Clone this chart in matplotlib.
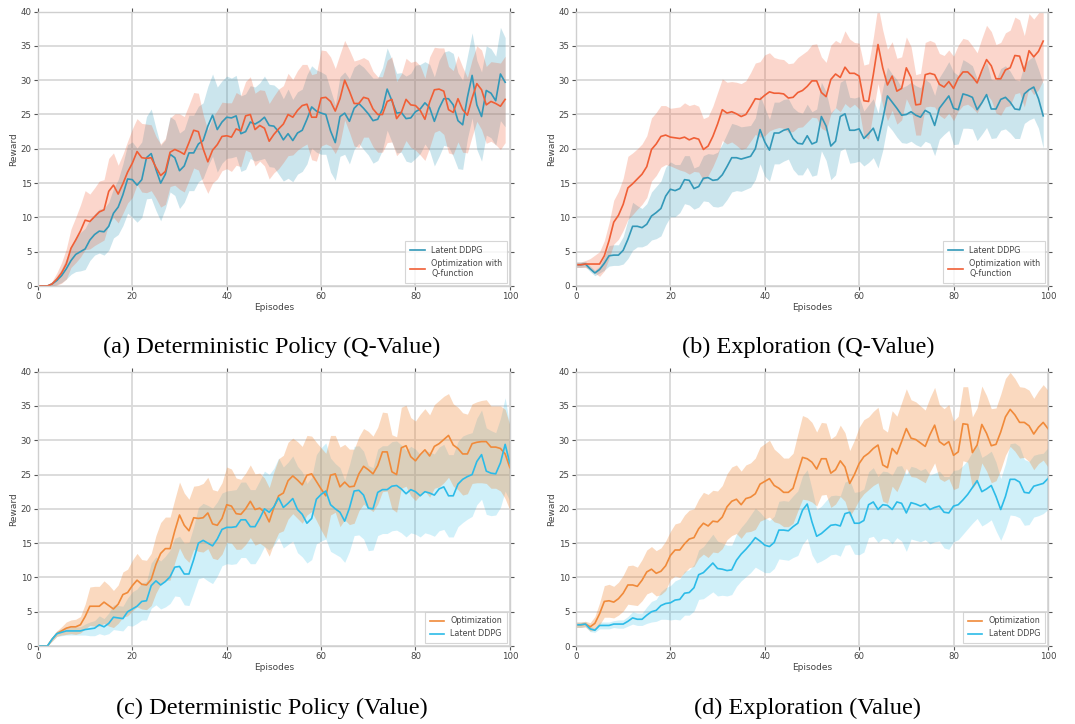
import matplotlib
matplotlib.use("Agg")
import matplotlib.pyplot as plt
import numpy as np

# ---------------- data ----------------
episodes_top = list(range(100))
episodes_bot = list(range(101))

# (a) Deterministic Policy (Q-Value)
a_latent = [0, 0, 0, 0.3, 0.8, 1.5, 2.5, 3.7, 4.6, 5.0, 5.4, 6.7, 7.5, 8.0, 7.9, 8.7, 10.6, 11.5, 13.3, 15.6,
            15.5, 14.7, 15.5, 18.7, 19.3, 17.0, 15.0, 16.3, 19.2, 18.7, 16.8, 17.5, 19.4, 19.4, 20.7, 21.2, 23.3, 24.9, 22.8, 23.9,
            24.6, 24.5, 24.8, 22.2, 22.5, 23.9, 23.6, 24.0, 24.6, 23.4, 23.3, 22.5, 21.3, 22.2, 21.2, 22.3, 22.7, 24.3, 26.1, 25.5,
            25.2, 25.0, 22.6, 20.9, 24.7, 25.2, 24.0, 25.9, 26.6, 25.9, 25.1, 24.1, 24.3, 25.8, 28.7, 27.0, 25.2, 25.3, 24.4, 24.5,
            25.4, 25.8, 26.7, 26.0, 24.0, 25.9, 27.3, 27.3, 26.4, 24.1, 23.5, 27.5, 30.7, 26.4, 24.7, 28.5, 28.1, 27.0, 30.9, 29.7]
a_latent_std = [0, 0, 0, 0.3, 0.6, 1, 1.5, 2, 2.5, 2.8, 3, 3, 3, 3.2, 3.4, 3.5, 3.6, 4, 4.5, 5,
                5.5, 5.4, 5.5, 6, 6.5, 6, 5.5, 5, 5.5, 5.5, 5.5, 5.3, 5.5, 5.5, 5.5, 5.5, 5.8, 6, 6.2, 6,
                6, 5.8, 5.9, 5.5, 5.5, 5.3, 5.4, 5.6, 6, 6, 6, 6.2, 6, 6.5, 6, 6, 6, 6.5, 6, 6,
                6, 5.8, 6, 5.5, 5.8, 6, 6.2, 6, 5.8, 6, 6, 6.2, 6, 6, 6, 6, 5.8, 5.8, 6.2, 6.5,
                6.8, 6.5, 6, 6.3, 6.5, 7, 6.8, 7, 7.5, 7, 6.5, 6, 6.2, 6.5, 6.5, 6.5, 6.5, 6.5, 6.8, 6.5]
a_qfunc = [0, 0, 0, 0.3, 1.0, 1.9, 3.2, 5.5, 6.7, 8.0, 9.6, 9.4, 10.1, 10.8, 11.1, 13.8, 14.7, 13.4, 14.9, 16.6,
           17.9, 19.6, 18.7, 18.6, 18.7, 17.3, 16.1, 16.7, 19.5, 19.9, 19.6, 19.2, 20.9, 22.7, 22.5, 20.0, 18.1, 19.8, 20.6, 21.8,
           21.9, 21.7, 22.9, 22.6, 24.8, 25.0, 22.8, 23.4, 23.0, 21.1, 22.1, 22.9, 23.6, 25.0, 24.6, 25.6, 26.3, 26.5, 24.6, 24.6,
           27.4, 27.5, 26.9, 25.5, 27.3, 30.0, 28.4, 26.6, 26.6, 27.5, 27.3, 25.8, 25.0, 25.0, 26.9, 27.2, 24.4, 25.3, 27.2, 26.4,
           26.3, 25.6, 24.3, 26.8, 28.6, 28.7, 28.4, 25.7, 25.3, 27.3, 25.7, 24.9, 27.4, 29.5, 28.6, 26.4, 26.9, 26.6, 26.2, 27.2]
a_qfunc_std = [0, 0, 0, 0.4, 0.9, 1.5, 2.2, 2.8, 3.3, 3.8, 4.3, 4, 4.2, 4.5, 4.4, 4.8, 4.7, 4.2, 4.3, 4.5,
               5, 4.8, 5, 5, 4.8, 4.5, 4.6, 4.8, 5, 5.2, 5.5, 5.5, 5.5, 5.5, 5.6, 5, 4.6, 4.8, 5, 5,
               4.8, 5, 5.3, 5.2, 5, 5.5, 5.3, 5.2, 5.5, 5.5, 5.6, 5.8, 5.6, 6, 5.5, 5.8, 6, 5.8, 6.2, 6.4,
               7, 6.8, 6.5, 6.2, 6.5, 5.8, 6, 6.2, 6.4, 5.8, 5.6, 5.5, 5.5, 5.5, 6, 6.2, 5.4, 5.6, 6, 6.2,
               6.5, 6.5, 6, 6.6, 6.2, 6, 6.3, 6.3, 6.1, 6.3, 6.2, 5.5, 5.6, 5.5, 5.8, 5.6, 5.8, 6, 6.3, 6.3]

# (b) Exploration (Q-Value)
b_latent = [3.1, 3.1, 3.2, 2.5, 1.9, 2.4, 3.3, 4.4, 4.5, 4.5, 5.2, 6.8, 8.7, 8.7, 8.5, 9.0, 10.2, 10.7, 11.3, 13.1,
            14.1, 13.9, 14.2, 15.5, 15.4, 14.2, 14.5, 15.7, 15.8, 15.4, 15.5, 16.2, 17.4, 18.7, 18.7, 18.5, 18.7, 18.9, 20.0, 22.8,
            21.0, 19.8, 22.3, 22.3, 22.7, 22.9, 21.5, 20.8, 20.7, 21.9, 20.7, 21.0, 24.7, 23.3, 20.4, 21.1, 24.7, 25.1, 22.7, 22.7,
            22.9, 21.5, 22.2, 23.0, 21.2, 24.3, 27.7, 26.8, 25.9, 24.9, 25.0, 25.4, 24.9, 24.6, 25.6, 25.2, 23.4, 25.9, 26.8, 27.7,
            25.9, 25.7, 28.0, 27.8, 27.5, 25.7, 26.7, 27.9, 25.8, 25.8, 27.2, 27.5, 26.8, 25.8, 25.7, 28.0, 28.6, 29.0, 27.3, 24.8]
b_latent_std = [0.4, 0.4, 0.4, 0.4, 0.4, 0.5, 1, 1.5, 1.5, 1.5, 2, 2.8, 3.5, 3, 2.8, 3, 3.5, 3.8, 4, 4.2,
                4, 3.8, 3.5, 3.5, 3.6, 3, 3, 3.3, 3.5, 3.8, 4, 4.5, 4.8, 5, 4.8, 4.7, 4.6, 4.5, 4.5, 5,
                5, 4.5, 4.5, 4.5, 4.5, 4.4, 4.5, 4.6, 4.5, 4.6, 4.7, 4.8, 5, 5, 4.9, 4.9, 5, 5, 4.8, 4.7,
                4.7, 4, 4.2, 4.3, 4, 4.5, 4.2, 4.1, 4.2, 4, 4.2, 4.3, 4.3, 4.3, 4.5, 4.4, 4.4, 4.5, 4.7, 5,
                5.3, 5, 5, 4.8, 4.6, 4.5, 4.6, 4.8, 4.3, 4.2, 4.5, 4.6, 4.5, 4.3, 4.2, 4.3, 4.4, 4.5, 4.3, 4.7]
b_qfunc = [3.1, 3.1, 3.2, 3.2, 3.2, 3.2, 4.4, 6.6, 9.3, 10.3, 11.9, 14.3, 14.9, 15.6, 16.3, 17.4, 19.9, 20.7, 21.8, 22.0,
           21.7, 21.6, 21.5, 21.7, 21.3, 21.6, 21.4, 19.9, 20.4, 21.8, 23.6, 25.7, 25.2, 25.4, 25.1, 24.7, 25.0, 26.1, 27.3, 27.2,
           27.8, 28.3, 28.1, 28.1, 28.0, 27.4, 27.5, 28.2, 28.5, 29.1, 29.9, 29.9, 28.2, 27.6, 30.1, 30.9, 30.4, 31.9, 31.0, 31.0,
           30.6, 27.0, 26.9, 30.8, 35.2, 31.8, 29.3, 30.6, 28.4, 28.8, 31.8, 30.4, 26.4, 26.5, 30.8, 31.0, 30.8, 29.4, 29.0, 29.8,
           28.8, 30.3, 31.2, 31.2, 30.5, 29.6, 31.4, 33.0, 32.1, 30.2, 30.2, 31.5, 31.8, 33.6, 33.5, 31.3, 34.3, 33.4, 34.2, 35.7]
b_qfunc_std = [0.4, 0.4, 0.5, 0.8, 1.3, 1.8, 2.2, 2.6, 3.2, 3.5, 3.8, 4.6, 4.5, 4.4, 4.4, 4.5, 4.6, 4.6, 4.5, 4.3,
               4.2, 4.4, 4.6, 5, 5, 4.9, 4.8, 4.5, 4.3, 4.4, 4.6, 4.5, 4.5, 4.4, 4.6, 4.8, 4.9, 5, 5.2, 5.5,
               5.9, 5.7, 5.2, 5, 5, 5, 5, 5.1, 5.3, 5.2, 5.3, 5.4, 5.2, 5, 5, 4.9, 5, 5.3, 5, 4.5,
               4.8, 5.2, 5.5, 5.4, 5.7, 5.5, 5.2, 5, 4.8, 4.6, 4.5, 4.5, 4.4, 4.5, 4.7, 4.8, 4.7, 4.5, 4.6, 4.6,
               4.7, 4.8, 4.9, 4.7, 4.5, 4.4, 4.7, 5, 5, 5, 5.3, 5.4, 5.5, 5.6, 5.3, 5.2, 5.4, 5.5, 5.6, 5.7]

# (c) Deterministic Policy (Value)
c_opt = [0, 0, 0, 1.0, 1.8, 2.2, 2.6, 2.8, 2.8, 3.1, 4.3, 5.8, 5.8, 5.8, 6.4, 5.9, 5.4, 6.1, 7.5, 7.8,
         8.8, 9.6, 9.0, 8.9, 9.7, 11.9, 13.5, 14.2, 14.2, 16.8, 19.1, 17.6, 16.8, 18.7, 18.6, 18.7, 19.4, 17.8, 17.6, 18.6,
         20.6, 20.4, 19.3, 19.2, 20.0, 21.1, 19.9, 20.1, 19.5, 18.1, 20.2, 21.9, 22.3, 24.1, 24.8, 24.2, 23.5, 24.9, 25.1, 24.0,
         22.9, 21.9, 24.9, 25.1, 23.2, 23.9, 23.2, 23.3, 25.1, 26.2, 25.7, 25.1, 26.3, 28.3, 28.3, 25.4, 25.0, 28.9, 29.2, 27.6,
         27.0, 27.9, 28.6, 27.7, 29.1, 29.5, 30.1, 30.7, 29.3, 28.8, 28.0, 28.0, 29.5, 29.7, 29.8, 29.8, 29.0, 29.0, 28.8, 28.0, 26.0]
c_opt_std = [0, 0, 0, 0.3, 0.4, 0.6, 0.9, 1, 1.1, 1.2, 1.8, 2.8, 2.9, 2.9, 3.1, 3, 2.7, 2.8, 3.3, 3.4,
             3.7, 3.9, 3.6, 3.6, 3.8, 4.2, 4.5, 4.6, 4.6, 4.6, 4.8, 4.7, 4.6, 4.6, 4.8, 5, 5.2, 5, 5, 5.2,
             5.5, 5.4, 5.2, 5.1, 5.2, 5.3, 5.2, 5.1, 5, 5, 5.2, 5.4, 5.5, 5.6, 5.5, 5.6, 5.6, 5.8, 5.5, 5.7,
             6, 6.2, 5.8, 5.6, 5.8, 5.5, 5.5, 5.4, 5.4, 5.5, 5.6, 5.5, 5.6, 5.8, 5.7, 5.4, 5.5, 5.9, 5.9, 5.7,
             5.8, 5.9, 6, 6, 6.1, 6.3, 6.3, 6.1, 6, 6, 6, 5.8, 5.8, 5.9, 6, 6.1, 6, 6, 6.2, 6.5, 6.2]
c_latent = [0, 0, 0, 1.0, 1.8, 2.0, 2.2, 2.2, 2.2, 2.2, 2.4, 2.5, 2.6, 3.1, 2.8, 3.3, 4.2, 4.1, 4.0, 5.0,
            5.4, 5.8, 6.5, 6.6, 8.8, 9.5, 8.9, 9.4, 10.1, 11.5, 11.6, 10.5, 10.5, 12.6, 15.0, 15.4, 15.0, 14.6, 15.6, 17.0,
            17.3, 17.3, 17.4, 18.4, 18.4, 17.4, 17.4, 18.6, 20.0, 19.5, 20.3, 21.6, 20.2, 20.8, 21.5, 19.9, 19.2, 17.9, 18.6, 21.4,
            22.1, 22.6, 20.6, 20.0, 19.5, 18.2, 20.1, 22.6, 22.7, 22.0, 20.1, 20.0, 22.4, 22.8, 22.8, 23.3, 23.4, 22.9, 22.2, 22.8,
            22.5, 21.9, 22.5, 22.3, 22.0, 22.9, 23.2, 21.9, 21.9, 23.6, 24.3, 24.7, 25.0, 26.9, 27.9, 25.5, 25.2, 25.1, 26.7, 29.4, 26.6]
c_latent_std = [0, 0, 0, 0.3, 0.4, 0.5, 0.6, 0.6, 0.6, 0.6, 0.8, 1, 1.1, 1.3, 1.2, 1.5, 1.8, 1.8, 1.8, 2,
                2.5, 2.5, 2.7, 2.8, 3.3, 3.5, 3.5, 3.7, 3.9, 4.2, 4.4, 4.5, 4.6, 4.8, 5.2, 5.4, 5.5, 5.5, 5.4, 5.3,
                5.3, 5.4, 5.4, 5.5, 5.5, 5.4, 5.4, 5.5, 5.5, 5.5, 5.6, 5.8, 5.9, 6, 6.2, 6.3, 6.2, 5.8, 6, 6.5,
                6.8, 7, 6.8, 6.6, 6.5, 6, 6.3, 6.5, 6.5, 6.4, 6.2, 6, 6.3, 6.4, 6.4, 6.5, 6.5, 6.4, 6.3, 6.3,
                6.2, 6, 6, 6, 6, 6.1, 6.2, 6, 6, 6.2, 6.3, 6.2, 6.1, 6.3, 6.5, 6.3, 6.2, 6, 6.5, 6.8, 5.5]

# (d) Exploration (Value)
d_opt = [3.1, 3.1, 3.2, 2.8, 3.3, 4.7, 6.5, 6.6, 6.4, 6.9, 7.7, 8.9, 8.9, 8.7, 9.6, 10.8, 11.2, 10.6, 10.9, 11.7,
         13.2, 14.0, 14.0, 14.9, 15.6, 15.8, 17.1, 17.9, 17.5, 18.2, 18.1, 18.8, 20.3, 21.1, 21.4, 20.6, 21.5, 21.7, 22.2, 23.6,
         24.0, 24.4, 23.4, 23.0, 22.4, 22.4, 23.0, 25.3, 27.5, 27.3, 26.8, 25.8, 27.3, 27.3, 25.2, 25.7, 27.0, 26.1, 23.7, 25.0,
         26.6, 27.6, 28.1, 28.8, 29.3, 26.4, 26.0, 28.8, 28.0, 29.8, 31.7, 30.3, 30.1, 29.6, 29.1, 30.8, 32.2, 29.8, 29.3, 29.8,
         27.8, 28.3, 32.4, 32.3, 28.2, 29.3, 32.3, 31.0, 29.2, 29.4, 31.2, 33.4, 34.5, 33.7, 32.6, 32.6, 32.1, 30.9, 31.9, 32.6, 31.7]
d_opt_std = [0.4, 0.4, 0.4, 0.6, 1, 1.6, 2.3, 2.4, 2.3, 2.4, 2.6, 2.8, 2.9, 2.8, 3, 3.2, 3.3, 3.3, 3.4, 3.6,
             3.5, 3.8, 4, 4.2, 4.2, 4.2, 4.3, 4.5, 4.6, 4.5, 4.5, 4.6, 4.8, 5, 5, 4.9, 4.9, 5, 5.2, 5.4,
             5.5, 5.6, 5.3, 5.1, 5, 5, 5.1, 5.6, 6.1, 6, 5.8, 5.4, 5.3, 5.2, 5, 5, 5.2, 5, 4.8, 5,
             5.3, 5.4, 5.3, 5.4, 5.5, 5.3, 5.2, 5.5, 5.5, 5.7, 5.8, 5.6, 5.5, 5.4, 5.3, 5.4, 5.5, 5.4, 5.3, 5.4,
             5, 5.2, 5.4, 5.5, 5.2, 5.4, 5.6, 5.5, 5.4, 5.3, 5.5, 5.6, 5.4, 5.3, 5.2, 5.1, 5.2, 5.2, 5.3, 5.5, 5.6]
d_latent = [3.1, 3.1, 3.2, 2.5, 2.3, 3.0, 3.0, 3.0, 3.2, 3.2, 3.2, 3.6, 4.1, 3.9, 3.9, 4.5, 5.0, 5.2, 5.9, 6.2,
            6.3, 6.7, 6.8, 7.7, 7.8, 8.5, 10.4, 10.7, 11.4, 12.1, 11.3, 11.2, 11.0, 11.1, 12.5, 13.4, 14.1, 14.9, 15.8, 15.3,
            14.7, 14.5, 15.1, 16.9, 16.9, 16.8, 17.4, 17.9, 19.8, 20.7, 18.1, 16.0, 16.4, 17.0, 17.6, 17.7, 17.5, 19.3, 19.5, 17.9,
            17.9, 18.3, 20.6, 21.0, 19.9, 20.6, 20.5, 19.9, 21.0, 20.8, 19.4, 20.9, 20.7, 20.4, 20.7, 19.9, 20.2, 20.4, 19.5, 19.4,
            20.4, 20.6, 21.3, 22.1, 23.1, 24.1, 22.5, 22.9, 23.4, 21.8, 19.9, 21.8, 24.3, 24.3, 23.9, 22.4, 22.3, 23.3, 23.5, 23.7, 24.4]
d_latent_std = [0.4, 0.4, 0.4, 0.4, 0.3, 0.5, 0.5, 0.5, 0.5, 0.6, 0.6, 0.7, 0.9, 0.9, 0.9, 1.2, 1.5, 1.6, 2, 2.3,
                2.5, 2.8, 3, 3.2, 3.3, 3.4, 3.6, 3.8, 4, 4.2, 4, 3.8, 3.7, 3.6, 3.8, 3.9, 4, 4.2, 4.3, 4.2,
                4, 3.8, 3.8, 4.2, 4.3, 4.3, 4.5, 4.7, 5, 5, 4.8, 3.9, 4, 4.2, 4.3, 4.3, 4.4, 4.6, 4.7, 4.5,
                4.6, 4.6, 4.8, 5, 4.8, 4.9, 4.9, 5, 5.2, 5.5, 5.6, 5.3, 5.3, 5.2, 5.2, 5, 5, 5.1, 5.2, 5.3,
                5.2, 5.1, 5, 5, 5.2, 5.5, 5, 5, 5, 5, 4.5, 4.8, 5.2, 5.3, 5.2, 4.8, 4.6, 4.5, 4.5, 4.4, 4.5]

captions = ["(a) Deterministic Policy (Q-Value)", "(b) Exploration (Q-Value)",
            "(c) Deterministic Policy (Value)", "(d) Exploration (Value)"]

TEAL = "#3398b8"
RED = "#f05f36"
CYAN = "#2cbbe8"
ORANGE = "#f08a3a"
GRID = "#d9d9d9"
TXT = "#444444"


def panel(ax, x, series, band_order, band_alpha):
    # series: list of (label, mean, std, color); bands first, lines on top
    for i in band_order:
        label, m, s, c = series[i]
        m = np.array(m); s = np.array(s)
        ax.fill_between(x, m - s, m + s, color=c, alpha=band_alpha[i], linewidth=0)
    for label, m, s, c in series:
        ax.plot(x, m, color=c, linewidth=1.2, label=label)
    ax.set_xlim(0, 100)
    ax.set_ylim(0, 40)
    ax.set_xticks(range(0, 101, 20))
    ax.set_yticks(range(0, 41, 5))
    ax.grid(True, color=GRID, linewidth=1.3)
    ax.set_axisbelow(True)
    for sp in ax.spines.values():
        sp.set_color("#cfcfcf")
        sp.set_linewidth(1.0)
    ax.tick_params(direction="out", length=3, width=0.8, color="#555555",
                   labelsize=6.2, labelcolor=TXT, top=True, right=True, pad=1.5)
    ax.set_xlabel("Episodes", fontsize=6.5, color=TXT, labelpad=1)
    ax.set_ylabel("Reward", fontsize=6.5, color=TXT, labelpad=2)
    leg = ax.legend(loc="lower right", fontsize=5.8, fancybox=False,
                    handlelength=1.8, borderpad=0.6, labelspacing=0.5,
                    borderaxespad=0.35)
    leg.get_frame().set_edgecolor("#cccccc")
    leg.get_frame().set_linewidth(0.8)
    for t in leg.get_texts():
        t.set_color(TXT)


fig = plt.figure(figsize=(10.75, 7.24), dpi=100)
lefts = [0.0353, 0.5358]
bottoms = [0.605, 0.1077]
W, H = 0.439, 0.379

axes = []
for r in range(2):
    for c in range(2):
        axes.append(fig.add_axes([lefts[c], bottoms[r], W, H]))

panel(axes[0], episodes_top, [("Latent DDPG", a_latent, a_latent_std, TEAL),
                              ("Optimization with\nQ-function", a_qfunc, a_qfunc_std, RED)],
      [0, 1], [0.25, 0.25])
panel(axes[1], episodes_top, [("Latent DDPG", b_latent, b_latent_std, TEAL),
                              ("Optimization with\nQ-function", b_qfunc, b_qfunc_std, RED)],
      [0, 1], [0.25, 0.25])
panel(axes[2], episodes_bot, [("Optimization", c_opt, c_opt_std, ORANGE),
                              ("Latent DDPG", c_latent, c_latent_std, CYAN)],
      [1, 0], [0.32, 0.22])
panel(axes[3], episodes_bot, [("Optimization", d_opt, d_opt_std, ORANGE),
                              ("Latent DDPG", d_latent, d_latent_std, CYAN)],
      [1, 0], [0.32, 0.22])

cap_x = [272 / 1075, 808 / 1075]
cap_y = [1 - 347 / 724, 1 - 708 / 724]
for i, cap in enumerate(captions):
    fig.text(cap_x[i % 2], cap_y[i // 2], cap, ha="center", va="center",
             fontsize=17.5, family="Liberation Serif", color="black")

fig.savefig("out.png", dpi=100)
